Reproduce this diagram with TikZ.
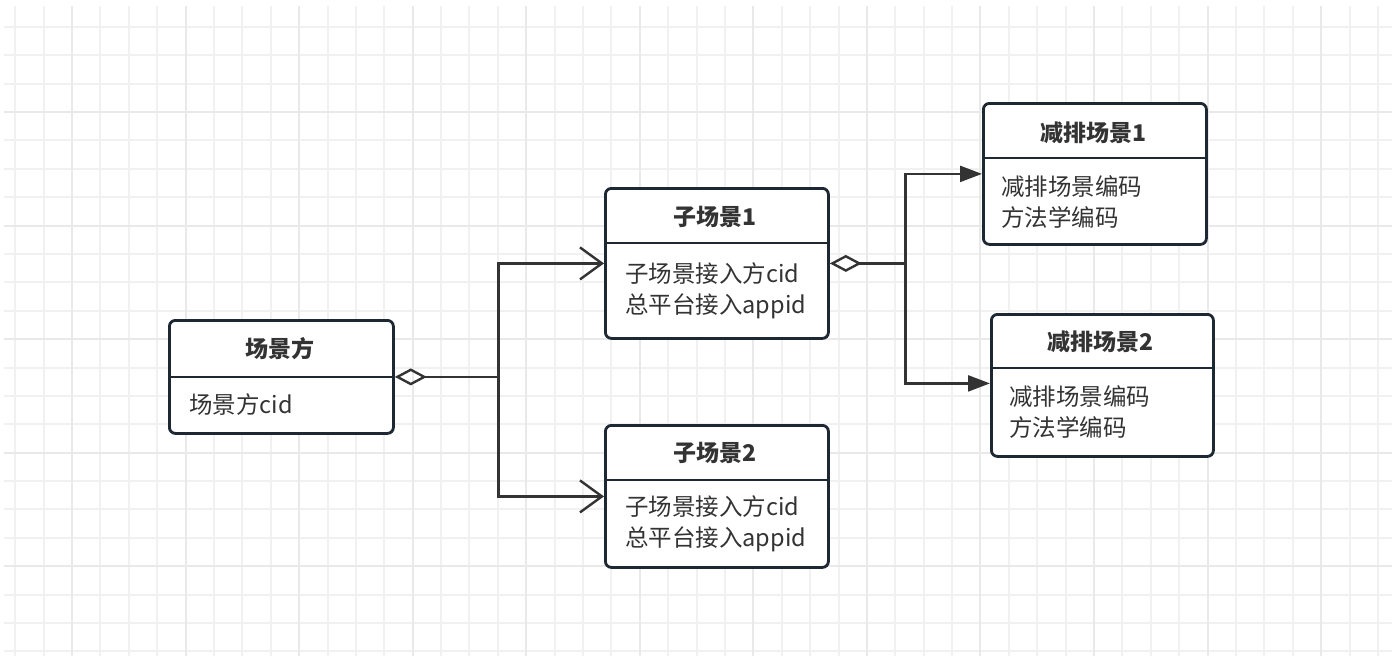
\documentclass[tikz,border=0pt]{standalone}
\usepackage{fontspec}
\newfontfamily\cjk{Noto Sans CJK SC}
\usetikzlibrary{arrows.meta}
\definecolor{gridminor}{RGB}{241,241,241}
\definecolor{gridmajor}{RGB}{233,233,233}
\definecolor{boxline}{RGB}{30,40,50}
\definecolor{conline}{RGB}{51,51,51}
\definecolor{txt}{RGB}{51,51,51}
\tikzset{
  umlbox/.style={draw=boxline, line width=2.8pt, rounded corners=6pt, fill=white, anchor=north west, inner sep=0pt},
  divider/.style={draw=boxline, line width=2.8pt},
  titletext/.style={font=\cjk\bfseries\fontsize{23}{31}\selectfont, text=txt, inner sep=0pt},
  bodytext/.style={font=\cjk\fontsize{23.5}{31}\selectfont, text=txt, inner sep=0pt, align=left, anchor=west},
  con/.style={draw=conline, line width=2.4pt},
  diam/.style={con, {Diamond[open, length=32pt, width=17pt, line width=2.4pt]}-},
  openarr/.style={con, -{Straight Barb[length=22pt, width=32pt, line width=2.4pt]}},
  fillarr/.style={con, -{Triangle[length=22pt, width=16pt]}},
}
\begin{document}
\begin{tikzpicture}[x=1pt,y=-1pt]
\useasboundingbox (0,0) rectangle (1397,656);
% grid
\foreach \k in {-2,...,46} {
  \pgfmathsetmacro\xx{72+\k*28.39}
  \draw[gridminor, line width=2pt] (\xx,6) -- (\xx,656);
}
\foreach \k in {-3,...,19} {
  \pgfmathsetmacro\yy{112+\k*28.39}
  \draw[gridminor, line width=2pt] (4,\yy) -- (1392,\yy);
}
\foreach \k in {0,4,...,44} {
  \pgfmathsetmacro\xx{72+\k*28.39}
  \draw[gridmajor, line width=2pt] (\xx,6) -- (\xx,656);
}
\foreach \k in {0,4,...,16} {
  \pgfmathsetmacro\yy{112+\k*28.39}
  \draw[gridmajor, line width=2pt] (4,\yy) -- (1392,\yy);
}

% boxes
\node[umlbox, minimum width=224pt, minimum height=113pt] (p) at (168,319) {};
\draw[divider] (168,377) -- (392,377);
\node[titletext] (pt) at (280,349) {场景方};
\node[bodytext] (pb) at (189,405) {场景方cid};

\node[umlbox, minimum width=223pt, minimum height=150pt] (s1) at (604,187) {};
\draw[divider] (604,243) -- (827,243);
\node[titletext] (s1t) at (715,217) {子场景1};
\node[bodytext] (s1b) at (625,291) {子场景接入方cid\\总平台接入appid};

\node[umlbox, minimum width=223pt, minimum height=142pt] (s2) at (604,424) {};
\draw[divider] (604,480) -- (827,480);
\node[titletext] (s2t) at (715,453) {子场景2};
\node[bodytext] (s2b) at (625,524) {子场景接入方cid\\总平台接入appid};

\node[umlbox, minimum width=223pt, minimum height=141pt] (r1) at (982,102) {};
\draw[divider] (982,158) -- (1205,158);
\node[titletext] (r1t) at (1093,133) {减排场景1};
\node[bodytext] (r1b) at (1001,202) {减排场景编码\\方法学编码};

\node[umlbox, minimum width=222pt, minimum height=142pt] (r2) at (990,313) {};
\draw[divider] (990,368) -- (1212,368);
\node[titletext] (r2t) at (1100,342) {减排场景2};
\node[bodytext] (r2b) at (1009,412) {减排场景编码\\方法学编码};

% connectors
\path (p.east) ++(103.5,0) coordinate (j1);
\draw[diam] (p.east) -- (j1);
\draw[openarr] (j1) |- (s1.west);
\draw[openarr] (j1) |- (s2.west);

\path (s1.east) ++(75.5,0) coordinate (j2);
\draw[diam] (s1.east) -- (j2);
\draw[fillarr] (j2) |- (r1.west);
\draw[fillarr] (j2) |- ([yshift=2pt]r2.west);
\end{tikzpicture}
\end{document}
